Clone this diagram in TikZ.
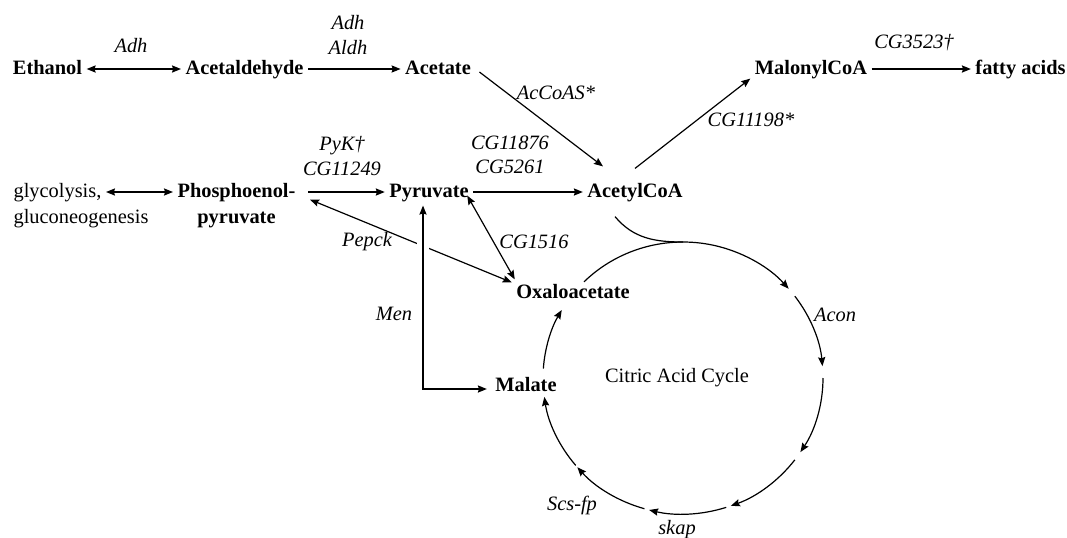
\documentclass[tikz,border=0pt]{standalone}
\usepackage{fontspec}
\setmainfont{Liberation Serif}
\usetikzlibrary{arrows.meta,positioning,calc}
\newcommand{\diagfont}{\fontsize{10.2}{12.2}\selectfont}
\tikzset{
  chem/.style={font=\diagfont\bfseries, inner sep=2pt, text height=7pt, text depth=2pt},
  txt/.style={font=\diagfont, inner sep=2pt, text height=7pt, text depth=2pt},
  enz/.style={font=\diagfont\itshape, inner sep=1pt, align=center},
}
\begin{document}
\begin{tikzpicture}[x=5pt,y=5pt,>={Stealth[length=4.5pt,width=3.6pt,inset=0.6pt]},line width=0.6pt]
  \useasboundingbox (0,0) rectangle (106.7,-53.7);

  % metabolites
  \node[chem] (eth) at (4.75,-6.9) {Ethanol};
  \node[chem] (ald) at (24.45,-6.9) {Acetaldehyde};
  \node[chem] (ace) at (43.8,-6.9) {Acetate};
  \node[chem] (mal) at (81.1,-6.9) {MalonylCoA};
  \node[chem] (fat) at (102.05,-6.9) {fatty acids};
  \node[txt, anchor=west] (gly) at (0.9,-19.2) {glycolysis,};
  \node[txt, anchor=north west] (gluco) at ([yshift=0.5pt]gly.south west) {gluconeogenesis};
  \node[chem] (pep) at (23.65,-19.2) {Phosphoenol-};
  \node[chem, below=-0.5pt of pep] (pep2) {pyruvate};
  \node[chem] (pyr) at (42.9,-19.2) {Pyruvate};
  \node[chem] (acc) at (63.5,-19.2) {AcetylCoA};
  \node[chem] (oxa) at (57.3,-29.3) {Oxaloacetate};
  \node[chem] (mlt) at (52.6,-38.6) {Malate};
  \coordinate (cyc) at (68.3,-37.8);
  \node[txt] (cyctxt) at (67.7,-37.7) {Citric Acid Cycle};

  % enzymes
  \node[enz] (adh) at (13.1,-4.6) {Adh};
  \node[enz] (adhaldh) at (34.8,-3.5) {Adh\\Aldh};
  \node[enz] (accoas) at (55.6,-9.3) {AcCoAS*};
  \node[enz] (cg11198) at (75.1,-12) {CG11198*};
  \node[enz] (cg3523) at (91.4,-4.3) {CG3523\textdagger};
  \node[enz] (pyk) at (34.2,-15.6) {PyK\textdagger\\CG11249};
  \node[enz] (pdh) at (51,-15.5) {CG11876\\CG5261};
  \node[enz] (pepck) at (36.7,-24.2) {Pepck};
  \node[enz] (cg1516) at (53.4,-24.2) {CG1516};
  \node[enz] (men) at (39.4,-31.4) {Men};
  \node[enz] (acon) at (83.5,-31.5) {Acon};
  \node[enz] (skap) at (67.7,-53) {skap};
  \node[enz] (scs) at (57.2,-50.5) {Scs-fp};

  % reactions
  \draw[<->] (eth) -- (ald);
  \draw[->] (ald) -- (ace);
  \draw[->] (mal) -- (fat);
  \draw[->] ([shift={(2pt,-1.5pt)}]ace.east) -- ([shift={(-16pt,6pt)}]acc.north);
  \draw[->] ([yshift=5pt]acc.north) -- ([yshift=2pt]mal.south west);
  \draw[<->] (gly) -- (pep);
  \draw[->] ([xshift=4pt]pep.east) -- (pyr.west);
  \draw[->] (pyr) -- (acc);
  \draw[<->] ([shift={(5pt,3pt)}]pep.south east) -- ([yshift=-1.5pt]oxa.north west);
  \draw[<->] ([shift={(-3pt,5pt)}]pyr.south east) -- ([xshift=1.5pt]oxa.north west);
  \draw[white, line width=6pt, shorten <=6pt, shorten >=6pt] ([xshift=-3pt]pyr.south) |- ([yshift=-1.5pt]mlt.west);
  \draw[<->, shorten >=2pt] ([xshift=-3pt]pyr.south) |- ([yshift=-1.5pt]mlt.west);

  % citric acid cycle
  \draw ([shift={(-10pt,-5.5pt)}]acc.south) to[out=-50,in=180] ([shift={(cyc)}]90:14 and 13.6);
  \foreach \a/\b in {135/41,37/5,0/-33,-37/-70,-72/-104,-106/-139,-140/-172,176/150}
    \draw[->] ([shift={(cyc)}]\a:14 and 13.6) arc[start angle=\a, end angle=\b, x radius=14, y radius=13.6];
\end{tikzpicture}
\end{document}
